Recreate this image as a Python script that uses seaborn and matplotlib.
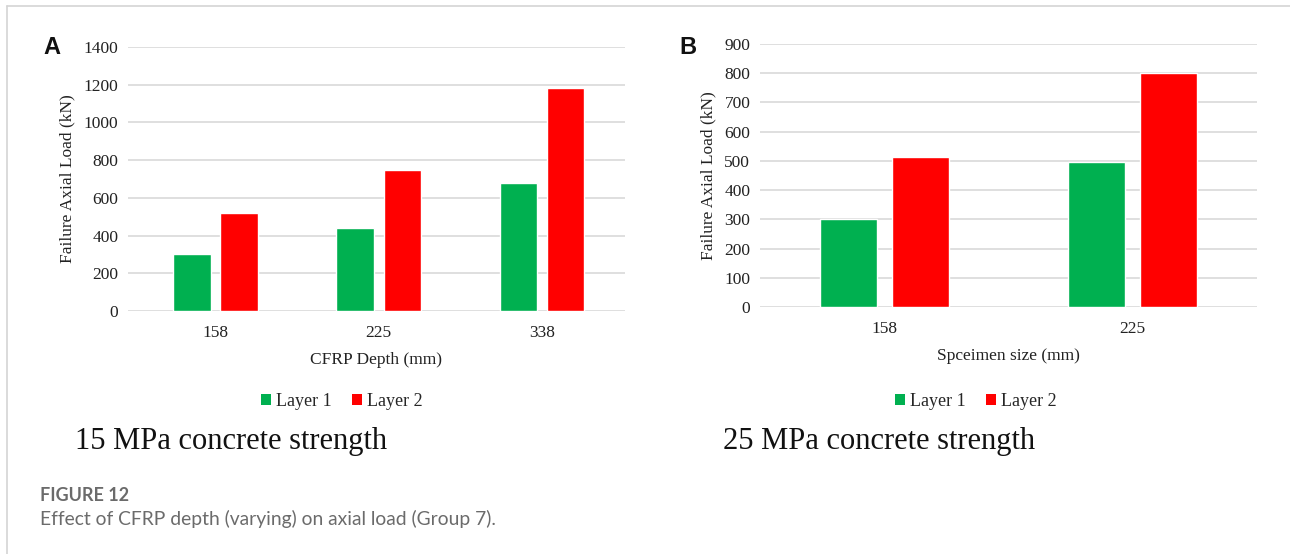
import matplotlib
matplotlib.use("Agg")
import matplotlib.pyplot as plt
import seaborn as sns
import pandas as pd
from matplotlib.patches import Patch
from matplotlib.lines import Line2D

# Panel A: 15 MPa concrete, varying CFRP depth
depth_a = ["158", "225", "338"]
layer1_a = [300, 440, 680]
layer2_a = [520, 750, 1180]

# Panel B: 25 MPa concrete, varying specimen size
size_b = ["158", "225"]
layer1_b = [300, 495]
layer2_b = [515, 800]

series_names = ["Layer 1", "Layer 2"]
colors = {"Layer 1": "#00B050", "Layer 2": "#FF0000"}

W, H = 1290, 554


def long_frame(cats, l1, l2):
    rows = []
    for c, v in zip(cats, l1):
        rows.append({"cat": c, "layer": "Layer 1", "load": v})
    for c, v in zip(cats, l2):
        rows.append({"cat": c, "layer": "Layer 2", "load": v})
    return pd.DataFrame(rows)


sns.set_theme(style="white")
plt.rcParams["font.family"] = ["Liberation Serif", "DejaVu Serif"]

fig = plt.figure(figsize=(W / 100, H / 100), dpi=100)

# thin frame along the top and left edges
fig.add_artist(Line2D([7 / W, 1.0], [1 - 6 / H, 1 - 6 / H], color="#d4d4d4", lw=1.2,
                      transform=fig.transFigure))
fig.add_artist(Line2D([7 / W, 7 / W], [0.0, 1 - 6 / H], color="#d4d4d4", lw=1.2,
                      transform=fig.transFigure))

ax_a = fig.add_axes([128 / W, 1 - 311 / H, 497 / W, 264 / H])
ax_b = fig.add_axes([760 / W, 1 - 307 / H, 497 / W, 263 / H])

panels = [
    (ax_a, long_frame(depth_a, layer1_a, layer2_a), depth_a, (0, 1400), 200,
     "CFRP Depth (mm)", "A", 43, (-0.536, 2.508), 342),
    (ax_b, long_frame(size_b, layer1_b, layer2_b), size_b, (0, 900), 100,
     "Spceimen size (mm)", "B", 679, None, 976),
]

for ax, df, cats, ylim, step, xlabel, tag, tag_x, xlim, leg_cx in panels:
    sns.barplot(data=df, x="cat", y="load", hue="layer", order=cats,
                hue_order=series_names, palette=colors, width=0.58, gap=0.21,
                saturation=1, ax=ax, legend=False, zorder=3)
    if xlim is not None:
        ax.set_xlim(*xlim)
    ax.set_ylim(*ylim)
    ax.set_yticks(range(ylim[0], ylim[1] + 1, step))
    ax.yaxis.grid(True, color="#d9d9d9", lw=1.2, zorder=0)
    ax.set_axisbelow(True)
    for s in ax.spines.values():
        s.set_visible(False)
    ax.tick_params(axis="both", length=0, labelsize=12.5, colors="#222222")
    ax.tick_params(axis="y", pad=7)
    ax.tick_params(axis="x", pad=10)
    ax.set_xlabel(xlabel, fontsize=12.5, color="#222222", labelpad=8)
    ax.set_ylabel("Failure Axial Load (kN)", fontsize=12.5, color="#222222", labelpad=6)

    handles = [Patch(facecolor=colors[n], edgecolor="none", label=n) for n in series_names]
    fig.legend(handles=handles, loc="center", bbox_to_anchor=(leg_cx / W, 1 - 401 / H),
               ncol=2, frameon=False, fontsize=13, handlelength=0.55, handleheight=0.55,
               handletextpad=0.3, columnspacing=1.1)

    fig.text(tag_x / W, 1 - 48 / H, tag, fontsize=17, fontweight="bold",
             family=["Liberation Sans", "DejaVu Sans"],
             ha="left", va="center", color="#111111")

fig.text(75 / W, 1 - 441 / H, "15 MPa concrete strength", fontsize=22,
         ha="left", va="center", color="#111111")
fig.text(723 / W, 1 - 441 / H, "25 MPa concrete strength", fontsize=22,
         ha="left", va="center", color="#111111")

fig.text(40 / W, 1 - 501 / H, "FIGURE 12", fontsize=13, family=["Lato", "DejaVu Sans"],
         fontweight="bold", ha="left", va="baseline", color="#6b6b6b")
fig.text(40 / W, 1 - 525 / H, "Effect of CFRP depth (varying) on axial load (Group 7).",
         fontsize=13.9, family=["Lato", "DejaVu Sans"],
         ha="left", va="baseline", color="#6b6b6b")

fig.savefig("out.png", dpi=100, facecolor="white")
